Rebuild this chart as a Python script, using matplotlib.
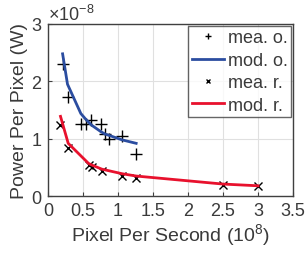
import matplotlib
matplotlib.use("Agg")
import matplotlib.pyplot as plt
from matplotlib.ticker import ScalarFormatter

plt.rcParams['font.family'] = ['Liberation Sans', 'DejaVu Sans']
plt.rcParams['mathtext.fontset'] = 'custom'
plt.rcParams['mathtext.rm'] = 'Liberation Sans'
plt.rcParams['mathtext.it'] = 'Liberation Sans'

# data (x in 1e8 pixel/s, y in 1e-8 W)
mea_o_x = [0.21, 0.28, 0.47, 0.54, 0.62, 0.76, 0.82, 0.87, 1.06, 1.26]
mea_o_y = [2.30, 1.73, 1.26, 1.26, 1.33, 1.26, 1.08, 1.00, 1.05, 0.74]
mod_o_x = [0.21, 0.28, 0.47, 0.54, 0.62, 0.76, 0.82, 0.87, 1.06, 1.26]
mod_o_y = [2.48, 1.95, 1.44, 1.34, 1.24, 1.12, 1.08, 1.06, 0.98, 0.92]
mea_r_x = [0.18, 0.29, 0.58, 0.63, 0.77, 1.06, 1.26, 2.50, 3.00]
mea_r_y = [1.24, 0.84, 0.55, 0.51, 0.43, 0.35, 0.31, 0.20, 0.18]
mod_r_x = [0.18, 0.29, 0.58, 0.63, 0.77, 1.06, 1.26, 2.50, 3.00]
mod_r_y = [1.39, 0.92, 0.57, 0.54, 0.47, 0.39, 0.35, 0.21, 0.18]
scale = 1e-8

xticks = [0, 0.5, 1, 1.5, 2, 2.5, 3, 3.5]
xticklabels = ['0', '0.5', '1', '1.5', '2', '2.5', '3', '3.5']
yticks = [0, 1, 2, 3]

fig = plt.figure(figsize=(3.05, 2.55), dpi=100)
ax = fig.add_axes([0.157, 0.227, 0.804, 0.675])

tc = '#3a3a3a'
ax.plot(mea_o_x, [v * scale for v in mea_o_y], linestyle='none', marker='+',
        color='black', markersize=8, markeredgewidth=1.0, label='mea. o.')
ax.plot(mod_o_x, [v * scale for v in mod_o_y], color='#2b4da0', linewidth=2, label='mod. o.')
ax.plot(mea_r_x, [v * scale for v in mea_r_y], linestyle='none', marker='x',
        color='black', markersize=6, markeredgewidth=1.0, label='mea. r.')
ax.plot(mod_r_x, [v * scale for v in mod_r_y], color='#e8112d', linewidth=2, label='mod. r.')

ax.set_xlim(0, 3.5)
ax.set_ylim(0, 3 * scale)
ax.set_xticks(xticks)
ax.set_xticklabels(xticklabels)
ax.set_yticks([t * scale for t in yticks])
fmt = ScalarFormatter(useMathText=True)
fmt.set_powerlimits((0, 0))
ax.yaxis.set_major_formatter(fmt)
ax.yaxis.get_offset_text().set_fontsize(13)
ax.yaxis.get_offset_text().set_color('#555555')

ax.grid(True, color='#e0e0e0', linewidth=0.8)
ax.set_axisbelow(True)
for s in ax.spines.values():
    s.set_color('#404040')
    s.set_linewidth(1.0)
ax.tick_params(direction='in', length=3, colors='#404040', labelcolor=tc, labelsize=13, pad=4)

ax.set_xlabel('Pixel Per Second (10$^8$)', fontsize=14, color=tc, labelpad=2)
ax.set_ylabel('Power Per Pixel (W)', fontsize=14, color=tc, labelpad=2)

leg = ax.legend(loc='upper right', fontsize=13, frameon=True, fancybox=False,
                handlelength=1.8, handletextpad=0.2, borderpad=0.2, labelspacing=0.3,
                borderaxespad=0.1, markerscale=0.55)
leg.get_frame().set_edgecolor('#404040')
leg.get_frame().set_linewidth(1.0)
for t in leg.get_texts():
    t.set_color(tc)

fig.savefig('out.png', dpi=100)
